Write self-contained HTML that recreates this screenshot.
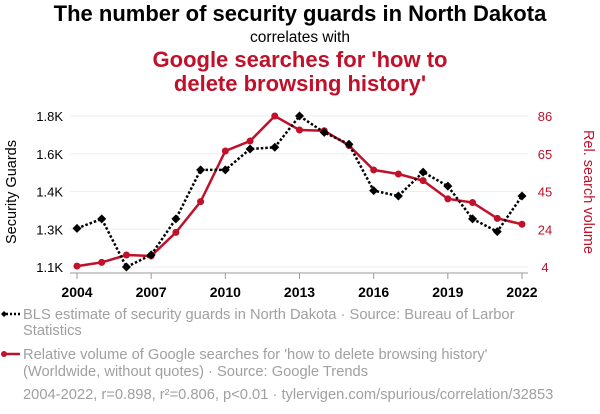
<!DOCTYPE html>
<html><head><meta charset="utf-8"><style>
body{margin:0;background:#fff;font-family:"Liberation Sans",sans-serif;}
svg{display:block}
</style></head><body>
<svg id="c" width="600" height="414" xmlns="http://www.w3.org/2000/svg" font-family="Liberation Sans, sans-serif">
<text x="300" y="21" text-anchor="middle" font-size="22" font-weight="bold" fill="#000">The number of security guards in North Dakota</text>
<text x="300" y="42" text-anchor="middle" font-size="15.5" fill="#000">correlates with</text>
<text x="300" y="67" text-anchor="middle" font-size="22" font-weight="bold" fill="#c0102a">Google searches for 'how to</text>
<text x="300" y="91" text-anchor="middle" font-size="22" font-weight="bold" fill="#c0102a">delete browsing history'</text>
<g id="grid"></g>
<g id="axes"></g>
<g id="marks"></g>
<text transform="translate(16,192) rotate(-90)" text-anchor="middle" font-size="14.5" fill="#000">Security Guards</text>
<text transform="translate(584,192) rotate(90)" text-anchor="middle" font-size="14.5" fill="#c0102a">Rel. search volume</text>
<g>
<line x1="2" y1="314" x2="20" y2="314" stroke="#000" stroke-width="2.5" stroke-dasharray="2,2"/>
<path d="M1,314 l3,-3 l3,3 l-3,3z" fill="#000"/>
<text x="23" y="319" font-size="14.7" fill="#a0a0a0">BLS estimate of security guards in North Dakota · Source: Bureau of Larbor</text>
<text x="23" y="335" font-size="14.7" fill="#a0a0a0">Statistics</text>
</g>
<g>
<line x1="2" y1="354" x2="20" y2="354" stroke="#c0102a" stroke-width="2.5"/>
<circle cx="4" cy="354" r="3" fill="#c0102a"/>
<text x="23" y="359" font-size="14.7" fill="#a0a0a0">Relative volume of Google searches for 'how to delete browsing history'</text>
<text x="23" y="376" font-size="14.7" fill="#a0a0a0">(Worldwide, without quotes) · Source: Google Trends</text>
</g>
<text x="23" y="399" font-size="14.7" fill="#a0a0a0">2004-2022, r=0.898, r²=0.806, p&lt;0.01 · tylervigen.com/spurious/correlation/32853</text>
</svg>
<script>
const years=[2004,2005,2006,2007,2008,2009,2010,2011,2012,2013,2014,2015,2016,2017,2018,2019,2020,2021,2022];
const guards=[1279,1323,1100,1156,1323,1550,1550,1647,1655,1800,1724,1669,1454,1429,1540,1475,1323,1264,1429];
const searches=[4.5,6.5,10.5,10,22.8,39.5,67,72.4,86,78.4,78,70,56.7,54.5,50.9,41,39,30.4,27.2];
const leftTicks=[1100,1275,1450,1625,1800];
const leftLabels=["1.1K","1.3K","1.4K","1.6K","1.8K"];
const rightTicks=[4,24.5,45,65.5,86];
const rightLabels=["4","24","45","65","86"];
const xTicks=[2004,2007,2010,2013,2016,2019,2022];

const NS="http://www.w3.org/2000/svg";
const X0=77,X1=522,YB=267,YT=116;
const x=v=>X0+(v-2004)/(2022-2004)*(X1-X0);
const yl=v=>YB-(v-1100)/(1800-1100)*(YB-YT);
const yr=v=>YB-(v-4)/(86-4)*(YB-YT);
function mk(tag,attrs,parent,text){const e=document.createElementNS(NS,tag);for(const k in attrs)e.setAttribute(k,attrs[k]);if(text!=null)e.textContent=text;parent.appendChild(e);return e;}
const grid=document.getElementById('grid'),axes=document.getElementById('axes'),marks=document.getElementById('marks');
leftTicks.forEach((t,i)=>{
  const g=mk('line',{x1:70,x2:528,y1:yl(t),y2:yl(t),stroke:'#eeeeee','stroke-width':1},grid);
  
  
  const l=mk('text',{x:63,y:yl(t)+5,'text-anchor':'end','font-size':13,fill:'#000'},axes,leftLabels[i]);
  
  
});
rightTicks.forEach((t,i)=>{
  const l=mk('text',{x:545,y:yr(t)+5,'text-anchor':'middle','font-size':13,fill:'#c0102a'},axes,rightLabels[i]);
  
  
});
const ax=mk('line',{x1:70,x2:528,y1:273,y2:273,stroke:'#999','stroke-width':1},axes);


xTicks.forEach(t=>{
  const tk=mk('line',{x1:x(t),x2:x(t),y1:273,y2:279,stroke:'#999'},axes);
  
  
  const l=mk('text',{x:x(t),y:297,'text-anchor':'middle','font-size':14,'font-weight':'bold',fill:'#000'},axes,String(t));
  
  
});
const rl=mk('polyline',{points:years.map((yv,i)=>x(yv)+','+yr(searches[i])).join(' '),fill:'none',stroke:'#c0102a','stroke-width':2.5},marks);


years.forEach((yv,i)=>{
  const c=mk('circle',{cx:x(yv),cy:yr(searches[i]),r:3.5,fill:'#c0102a'},marks);
  
  
});
const bl=mk('polyline',{points:years.map((yv,i)=>x(yv)+','+yl(guards[i])).join(' '),fill:'none',stroke:'#000','stroke-width':2.5,'stroke-dasharray':'2.5,2'},marks);


years.forEach((yv,i)=>{
  const cx=x(yv),cy=yl(guards[i]);
  const d=mk('path',{d:`M${cx-4.5},${cy} L${cx},${cy-4.5} L${cx+4.5},${cy} L${cx},${cy+4.5}Z`,fill:'#000'},marks);
  
  
});
</script>
</body></html>
